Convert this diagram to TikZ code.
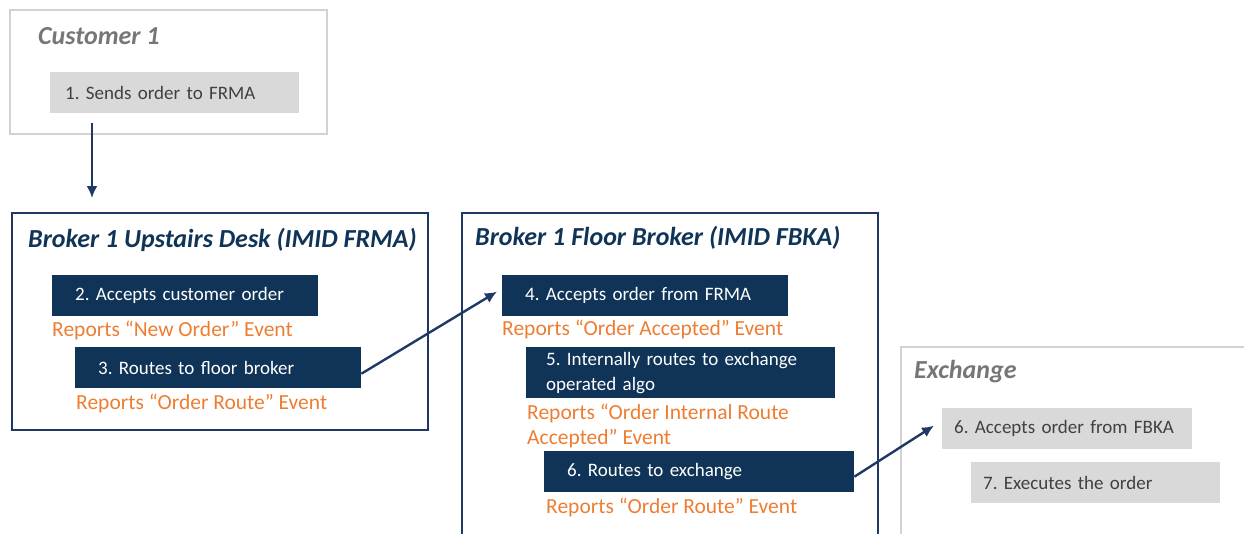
\documentclass[tikz,border=0pt]{standalone}
\usepackage{fontspec}
\setmainfont{Carlito}
\usetikzlibrary{positioning,arrows.meta}
\definecolor{navy}{RGB}{16,52,88}
\definecolor{navyline}{RGB}{31,56,100}
\definecolor{repcol}{RGB}{237,125,49}
\definecolor{lightbox}{RGB}{217,217,217}
\definecolor{lightline}{RGB}{210,210,210}
\definecolor{greytext}{RGB}{64,64,64}
\definecolor{greytitle}{RGB}{118,118,118}
\frenchspacing

\begin{document}
\begin{tikzpicture}[x=1pt, y=-1pt,
  party/.style={draw=navyline, line width=2pt, anchor=north west, inner sep=0pt},
  outside/.style={draw=lightline, line width=2pt, anchor=north west, inner sep=0pt},
  title/.style={anchor=west, inner sep=0pt, text=navy,
                font=\fontsize{26}{30}\selectfont\bfseries\itshape},
  stepbox/.style={fill=navy, text=white, anchor=north west, minimum height=41pt,
                  inner xsep=23pt, align=left, font=\fontsize{19}{25}\selectfont},
  extbox/.style={fill=lightbox, text=greytext, anchor=north west, minimum height=41pt,
                 inner xsep=14pt, align=left, font=\fontsize{19}{25}\selectfont},
  report/.style={text=repcol, inner sep=0pt, align=left, font=\fontsize{21.5}{25}\selectfont},
  arrow/.style={-{Latex[length=12pt,width=11pt]}, line width=2.4pt, draw=navyline}
]
  \clip (0,0) rectangle (1244,533);

  % parties
  \node[outside, minimum width=317pt, minimum height=124pt] (customer) at (9,9) {};
  \node[party, minimum width=416pt, minimum height=217pt] (upstairs) at (11,212) {};
  \node[party, minimum width=416pt, minimum height=340pt] (floor) at (461,212) {};
  \node[outside, minimum width=400pt, minimum height=200pt] (exchange) at (900,346) {};

  \node[title, text=greytitle] (custtitle) at (38,36) {Customer 1};
  \node[title] (upstitle) at (28,240) {Broker 1 Upstairs Desk (IMID FRMA)};
  \node[title] (floortitle) at (475,238) {Broker 1 Floor Broker (IMID FBKA)};
  \node[title, text=greytitle] (exchtitle) at (914,372) {Exchange};

  % steps
  \node[extbox, inner xsep=15pt, text width=219pt] (sendorder) at (50,72) {1. Sends order to FRMA};

  \node[stepbox, text width=220pt] (acceptcust) at (52,275) {2. Accepts customer order};
  \node[report, below right=4pt and 0pt of acceptcust.south west] (repnew) {Reports “New Order” Event};
  \node[stepbox, text width=240pt] (routefloor) at (75,347) {3. Routes to floor broker};
  \node[report, below right=5pt and 1pt of routefloor.south west] (reproute) {Reports “Order Route” Event};

  \node[stepbox, text width=240pt] (acceptfrma) at (502,275) {4. Accepts order from FRMA};
  \node[report, below right=3pt and 0pt of acceptfrma.south west] (repaccepted) {Reports “Order Accepted” Event};
  \node[stepbox, inner xsep=20pt, text width=269pt, minimum height=51pt] (internalroute) at (526,347) {5. Internally routes to exchange\\operated algo};
  \node[report, below right=5pt and 1pt of internalroute.south west] (repinternal) {Reports “Order Internal Route\\Accepted” Event};
  \node[stepbox, text width=264pt] (routeexch) at (544,451) {6. Routes to exchange};
  \node[report, below right=5pt and 2pt of routeexch.south west] (repexch) {Reports “Order Route” Event};

  \node[extbox, inner xsep=12pt, text width=226pt] (acceptfbka) at (942,408) {6. Accepts order from FBKA};
  \node[extbox, inner xsep=12pt, text width=225pt] (executes) at (971,462) {7. Executes the order};

  % connectors
  \draw[arrow] ([xshift=42pt,yshift=-10pt]sendorder.south west) -- ([xshift=81pt,yshift=14pt]upstairs.north west);
  \draw[arrow] ([yshift=-6pt]routefloor.east) -- ([xshift=-5pt,yshift=4pt]acceptfrma.west);
  \draw[arrow] ([yshift=-5pt]routeexch.east) -- ([xshift=-8pt,yshift=3pt]acceptfbka.west);
\end{tikzpicture}
\end{document}
